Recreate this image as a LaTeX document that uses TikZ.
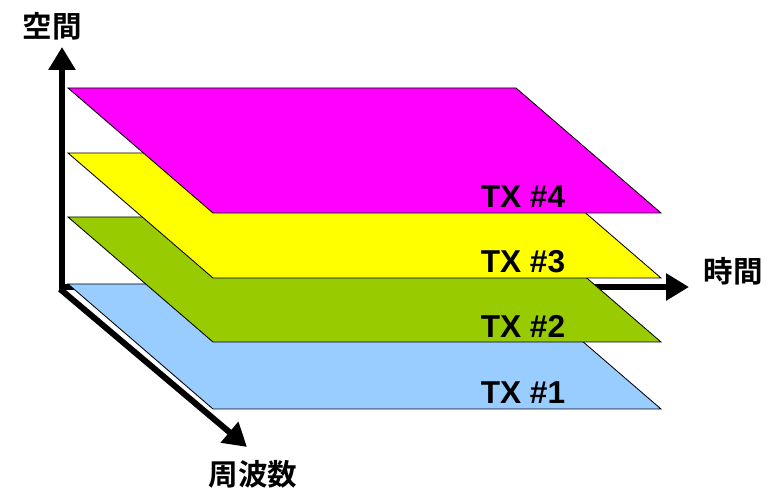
\documentclass[tikz,border=0pt]{standalone}
\usepackage{fontspec}
\usepackage{tikz}
\usetikzlibrary{arrows.meta}
\setmainfont{Liberation Sans}
\newfontfamily\jpfont{Noto Sans CJK JP}[BoldFont={* Bold}]

\definecolor{txblue}{HTML}{99CCFF}
\definecolor{txgreen}{HTML}{99CC00}
\definecolor{txyellow}{HTML}{FFFF00}
\definecolor{txmagenta}{HTML}{FF00FF}

\tikzset{
 achse/.style={line width=0.15cm, -{Triangle[length=0.575cm, width=0.65cm]}},
 ebene/.style={draw=black, line width=0.6pt},
 txlabel/.style={font=\fontsize{22.5}{26}\selectfont\bfseries, inner sep=0pt},
 achslabel/.style={font=\jpfont\fontsize{21}{25}\selectfont\bfseries, inner sep=0pt}
}

\begin{document}
\begin{tikzpicture}[x=0.025cm, y=-0.025cm]
 \useasboundingbox (0,0) rectangle (776,490);

 \coordinate (O) at (60,289);
 \coordinate (Oben) at (62,47);
 \coordinate (Rechts) at (689,287);
 \coordinate (Unten) at (247,447);

 \draw[achse] (62,290) -- (Oben);
 \draw[achse] (59,287) -- (Rechts);
 \draw[achse] (O) -- (Unten);

 \foreach \y/\col/\nr in {284/txblue/1, 217/txgreen/2, 153/txyellow/3, 88/txmagenta/4}
 {
  \fill[\col] (68,\y) -- (516,\y) -- (661,\y+125) -- (213,\y+125) -- cycle;
  \draw[ebene] (68,\y) -- (516,\y) -- (661,\y+125) -- (213,\y+125) -- cycle;
  \draw (523,\y+109) node[txlabel] (tx\nr) {TX \#\nr};
 }

 \draw (52,26) node[achslabel] (raum) {空間};
 \draw (733,271) node[achslabel] (zeit) {時間};
 \draw (253,474) node[achslabel] (freq) {周波数};
\end{tikzpicture}
\end{document}
